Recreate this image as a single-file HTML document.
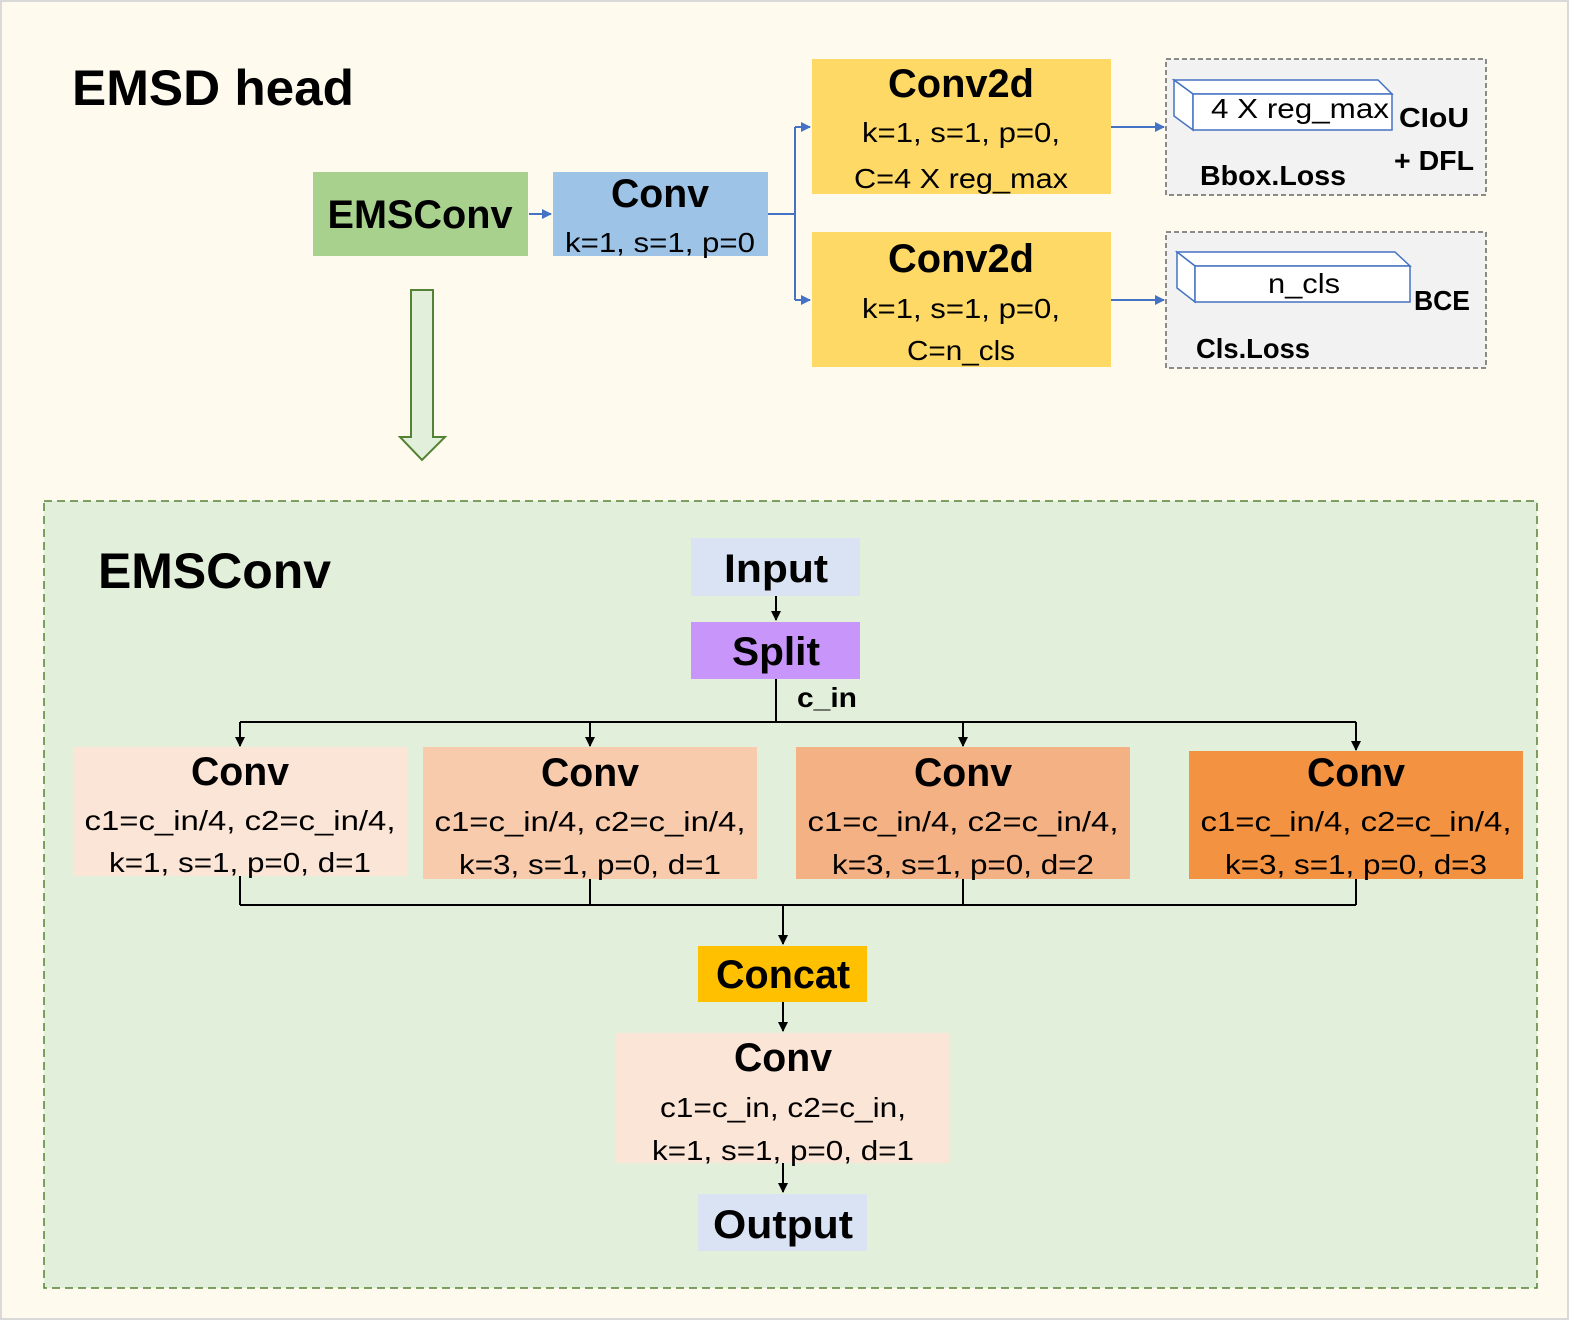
<!DOCTYPE html>
<html><head><meta charset="utf-8"><style>
html,body{margin:0;padding:0;background:#fff}
svg{display:block}
text{font-family:"Liberation Sans",sans-serif;fill:#000}
.b{font-weight:bold}
</style></head><body>
<svg width="1571" height="1322" viewBox="0 0 1571 1322" xmlns="http://www.w3.org/2000/svg">
<defs>
<marker id="ab" markerWidth="10" markerHeight="10" refX="9" refY="5" orient="auto" markerUnits="userSpaceOnUse"><path d="M0,0 L10,5 L0,10 z" fill="#4472c4"/></marker>
<marker id="ak" markerWidth="10" markerHeight="10" refX="9" refY="5" orient="auto" markerUnits="userSpaceOnUse"><path d="M0,0 L10,5 L0,10 z" fill="#000"/></marker>
</defs>
<rect x="1" y="1" width="1567" height="1318" fill="#fefbee" stroke="#d9d9d9" stroke-width="2"/>
<text x="72" y="105" class="b" font-size="50" textLength="282" lengthAdjust="spacingAndGlyphs">EMSD head</text>

<rect x="313" y="172" width="215" height="84" fill="#a9d18e"/>
<text x="420" y="228" class="b" font-size="40" text-anchor="middle" textLength="185" lengthAdjust="spacingAndGlyphs">EMSConv</text>
<line x1="529" y1="214" x2="551" y2="214" stroke="#4472c4" stroke-width="2" marker-end="url(#ab)"/>
<rect x="553" y="172" width="215" height="84" fill="#9dc3e6"/>
<text x="660" y="207" class="b" font-size="40" text-anchor="middle" textLength="98" lengthAdjust="spacingAndGlyphs">Conv</text>
<text x="660" y="252" font-size="28" text-anchor="middle" textLength="190" lengthAdjust="spacingAndGlyphs">k=1, s=1, p=0</text>
<polyline points="768,214 795,214" fill="none" stroke="#4472c4" stroke-width="2"/>
<line x1="795" y1="127" x2="795" y2="300" stroke="#4472c4" stroke-width="2"/>
<line x1="795" y1="127" x2="810" y2="127" stroke="#4472c4" stroke-width="2" marker-end="url(#ab)"/>
<line x1="795" y1="300" x2="810" y2="300" stroke="#4472c4" stroke-width="2" marker-end="url(#ab)"/>

<rect x="812" y="59" width="299" height="135" fill="#ffd966"/>
<text x="961" y="97" class="b" font-size="40" text-anchor="middle" textLength="146" lengthAdjust="spacingAndGlyphs">Conv2d</text>
<text x="961" y="142" font-size="28" text-anchor="middle" textLength="198" lengthAdjust="spacingAndGlyphs">k=1, s=1, p=0,</text>
<text x="961" y="188" font-size="28" text-anchor="middle" textLength="214" lengthAdjust="spacingAndGlyphs">C=4 X reg_max</text>
<rect x="812" y="232" width="299" height="135" fill="#ffd966"/>
<text x="961" y="272" class="b" font-size="40" text-anchor="middle" textLength="146" lengthAdjust="spacingAndGlyphs">Conv2d</text>
<text x="961" y="318" font-size="28" text-anchor="middle" textLength="198" lengthAdjust="spacingAndGlyphs">k=1, s=1, p=0,</text>
<text x="961" y="360" font-size="28" text-anchor="middle" textLength="108" lengthAdjust="spacingAndGlyphs">C=n_cls</text>
<line x1="1111" y1="127" x2="1164" y2="127" stroke="#4472c4" stroke-width="2" marker-end="url(#ab)"/>
<line x1="1111" y1="300" x2="1164" y2="300" stroke="#4472c4" stroke-width="2" marker-end="url(#ab)"/>

<rect x="1166" y="59" width="320" height="136" fill="#f2f2f2" stroke="#666" stroke-width="1.5" stroke-dasharray="5,3"/>
<rect x="1166" y="232" width="320" height="136" fill="#f2f2f2" stroke="#666" stroke-width="1.5" stroke-dasharray="5,3"/>
<g fill="#fff" stroke="#4472c4" stroke-width="1.5">
<polygon points="1174,80 1378,80 1392,94 1193,94"/>
<polygon points="1174,80 1193,94 1193,130 1174,116"/>
<rect x="1193" y="94" width="199" height="36"/>
<polygon points="1177,252 1395,252 1410,266 1195,266"/>
<polygon points="1177,252 1195,266 1195,302 1177,288"/>
<rect x="1195" y="266" width="215" height="36"/>
</g>
<text x="1300" y="118" font-size="28" text-anchor="middle" textLength="178" lengthAdjust="spacingAndGlyphs">4 X reg_max</text>
<text x="1399" y="127" class="b" font-size="28" textLength="70" lengthAdjust="spacingAndGlyphs">CIoU</text>
<text x="1394" y="170" class="b" font-size="28" textLength="80" lengthAdjust="spacingAndGlyphs">+ DFL</text>
<text x="1200" y="185" class="b" font-size="28" textLength="146" lengthAdjust="spacingAndGlyphs">Bbox.Loss</text>
<text x="1304" y="293" font-size="28" text-anchor="middle" textLength="72" lengthAdjust="spacingAndGlyphs">n_cls</text>
<text x="1414" y="310" class="b" font-size="28" textLength="56" lengthAdjust="spacingAndGlyphs">BCE</text>
<text x="1196" y="358" class="b" font-size="28" textLength="114" lengthAdjust="spacingAndGlyphs">Cls.Loss</text>

<polygon points="411,290 433,290 433,437 445,437 422,460 400,437 411,437" fill="#e2efda" stroke="#548235" stroke-width="2"/>

<rect x="44" y="501" width="1493" height="787" fill="#e2efda" stroke="#548235" stroke-width="1.5" stroke-dasharray="8,5"/>
<text x="98" y="588" class="b" font-size="50" textLength="233" lengthAdjust="spacingAndGlyphs">EMSConv</text>

<rect x="691" y="538" width="169" height="58" fill="#dae3f3"/>
<text x="776" y="582" class="b" font-size="40" text-anchor="middle" textLength="104" lengthAdjust="spacingAndGlyphs">Input</text>
<line x1="776" y1="596" x2="776" y2="620" stroke="#000" stroke-width="2" marker-end="url(#ak)"/>
<rect x="691" y="622" width="169" height="57" fill="#c896fa"/>
<text x="776" y="665" class="b" font-size="40" text-anchor="middle" textLength="88" lengthAdjust="spacingAndGlyphs">Split</text>
<line x1="776" y1="679" x2="776" y2="722" stroke="#000" stroke-width="2"/>
<text x="797" y="707" class="b" font-size="28" textLength="60" lengthAdjust="spacingAndGlyphs">c_in</text>
<line x1="240" y1="722" x2="1356" y2="722" stroke="#000" stroke-width="2"/>
<g stroke="#000" stroke-width="2">
<line x1="240" y1="722" x2="240" y2="746" marker-end="url(#ak)"/>
<line x1="590" y1="722" x2="590" y2="746" marker-end="url(#ak)"/>
<line x1="963" y1="722" x2="963" y2="746" marker-end="url(#ak)"/>
<line x1="1356" y1="722" x2="1356" y2="750" marker-end="url(#ak)"/>
</g>

<rect x="74" y="747" width="333" height="129" fill="#fbe5d6"/>
<rect x="423" y="747" width="334" height="132" fill="#f8cbad"/>
<rect x="796" y="747" width="334" height="132" fill="#f4b183"/>
<rect x="1189" y="751" width="334" height="128" fill="#f39240"/>
<g font-size="28" text-anchor="middle">
<text x="240" y="785" class="b" font-size="40" textLength="98" lengthAdjust="spacingAndGlyphs">Conv</text>
<text x="240" y="830" textLength="311" lengthAdjust="spacingAndGlyphs">c1=c_in/4, c2=c_in/4,</text>
<text x="240" y="872" textLength="262" lengthAdjust="spacingAndGlyphs">k=1, s=1, p=0, d=1</text>
<text x="590" y="786" class="b" font-size="40" textLength="98" lengthAdjust="spacingAndGlyphs">Conv</text>
<text x="590" y="831" textLength="311" lengthAdjust="spacingAndGlyphs">c1=c_in/4, c2=c_in/4,</text>
<text x="590" y="874" textLength="262" lengthAdjust="spacingAndGlyphs">k=3, s=1, p=0, d=1</text>
<text x="963" y="786" class="b" font-size="40" textLength="98" lengthAdjust="spacingAndGlyphs">Conv</text>
<text x="963" y="831" textLength="311" lengthAdjust="spacingAndGlyphs">c1=c_in/4, c2=c_in/4,</text>
<text x="963" y="874" textLength="262" lengthAdjust="spacingAndGlyphs">k=3, s=1, p=0, d=2</text>
<text x="1356" y="786" class="b" font-size="40" textLength="98" lengthAdjust="spacingAndGlyphs">Conv</text>
<text x="1356" y="831" textLength="311" lengthAdjust="spacingAndGlyphs">c1=c_in/4, c2=c_in/4,</text>
<text x="1356" y="874" textLength="262" lengthAdjust="spacingAndGlyphs">k=3, s=1, p=0, d=3</text>
</g>
<g stroke="#000" stroke-width="2" fill="none">
<line x1="240" y1="876" x2="240" y2="905"/>
<line x1="590" y1="879" x2="590" y2="905"/>
<line x1="963" y1="879" x2="963" y2="905"/>
<line x1="1356" y1="879" x2="1356" y2="905"/>
<line x1="240" y1="905" x2="1356" y2="905"/>
<line x1="783" y1="905" x2="783" y2="944" marker-end="url(#ak)"/>
<line x1="783" y1="1002" x2="783" y2="1031" marker-end="url(#ak)"/>
<line x1="783" y1="1163" x2="783" y2="1192" marker-end="url(#ak)"/>
</g>
<rect x="698" y="946" width="169" height="56" fill="#ffc000"/>
<text x="783" y="988" class="b" font-size="40" text-anchor="middle" textLength="134" lengthAdjust="spacingAndGlyphs">Concat</text>
<rect x="616" y="1033" width="333" height="130" fill="#fbe5d6"/>
<text x="783" y="1071" class="b" font-size="40" text-anchor="middle" textLength="98" lengthAdjust="spacingAndGlyphs">Conv</text>
<text x="783" y="1117" font-size="28" text-anchor="middle" textLength="246" lengthAdjust="spacingAndGlyphs">c1=c_in, c2=c_in,</text>
<text x="783" y="1160" font-size="28" text-anchor="middle" textLength="262" lengthAdjust="spacingAndGlyphs">k=1, s=1, p=0, d=1</text>
<rect x="698" y="1194" width="169" height="57" fill="#dae3f3"/>
<text x="783" y="1238" class="b" font-size="40" text-anchor="middle" textLength="140" lengthAdjust="spacingAndGlyphs">Output</text>
</svg>
</body></html>
